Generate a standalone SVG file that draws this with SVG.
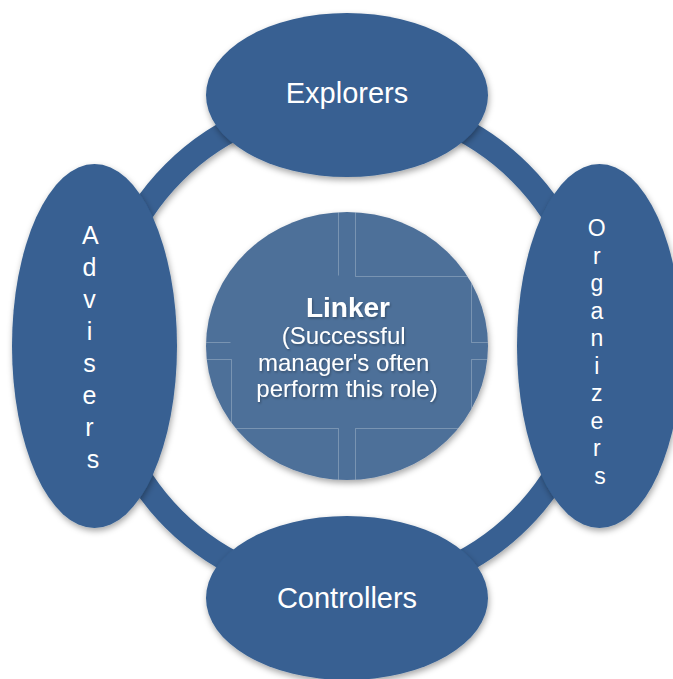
<svg xmlns="http://www.w3.org/2000/svg" width="673" height="679" viewBox="0 0 673 679">
<defs>
<filter id="sh" x="-20%" y="-20%" width="140%" height="140%">
<feDropShadow dx="1" dy="3" stdDeviation="3" flood-color="#000" flood-opacity="0.35"/>
</filter>
<filter id="tsh" x="-10%" y="-10%" width="120%" height="130%">
<feDropShadow dx="1" dy="1.5" stdDeviation="1" flood-color="#000" flood-opacity="0.3"/>
</filter>
<clipPath id="cc"><ellipse cx="347" cy="346" rx="141" ry="134"/></clipPath>
</defs>
<style>
.node{fill:#376092;filter:url(#sh)}
.lbl{font-family:"Liberation Sans",Arial,sans-serif;fill:#fff;text-anchor:middle}
.ring{fill:none;stroke:#376092;stroke-width:24;filter:url(#sh)}
.grid{fill:none;stroke:#fff;stroke-opacity:0.25;stroke-width:1}
</style>
<rect width="673" height="679" fill="#fff"/>
<g id="connectors">
<circle class="ring" cx="347" cy="346" r="245"/>
</g>
<g id="explorers">
<ellipse class="node" cx="347" cy="95" rx="141" ry="82"/>
<text class="lbl" x="347" y="103" font-size="29">Explorers</text>
</g>
<g id="controllers">
<ellipse class="node" cx="347" cy="598" rx="141" ry="82"/>
<text class="lbl" x="347" y="608" font-size="29">Controllers</text>
</g>
<g id="advisers">
<ellipse class="node" cx="94.5" cy="346" rx="82.5" ry="182"/>
<text class="lbl" font-size="25">
<tspan x="93" y="244">A</tspan>
<tspan x="93" y="276">d</tspan>
<tspan x="93" y="308">v</tspan>
<tspan x="93" y="340">i</tspan>
<tspan x="93" y="372">s</tspan>
<tspan x="93" y="404">e</tspan>
<tspan x="93" y="436">r</tspan>
<tspan x="93" y="468">s</tspan>
</text>
</g>
<g id="organizers">
<ellipse class="node" cx="599.5" cy="346" rx="82.5" ry="182"/>
<text class="lbl" font-size="23">
<tspan x="600" y="236">O</tspan>
<tspan x="600" y="263.5">r</tspan>
<tspan x="600" y="291">g</tspan>
<tspan x="600" y="318.5">a</tspan>
<tspan x="600" y="346">n</tspan>
<tspan x="600" y="373.5">i</tspan>
<tspan x="600" y="401">z</tspan>
<tspan x="600" y="428.5">e</tspan>
<tspan x="600" y="456">r</tspan>
<tspan x="600" y="483.5">s</tspan>
</text>
</g>
<g id="linker">
<ellipse cx="347" cy="346" rx="141" ry="134" fill="#4e7099" filter="url(#sh)"/>
<g class="grid" clip-path="url(#cc)">
<path d="M338.5,205 V275.5"/>
<path d="M355.5,205 V276.5 H470"/>
<path d="M471.5,278 V342.5 H495"/>
<path d="M200,342.5 H230.5"/>
<path d="M200,359.5 H231.5 V428.5 H338.5 V490"/>
<path d="M495,359.5 H471.5 V412"/>
<path d="M480,428.5 H355.5 V490"/>
</g>
<g filter="url(#tsh)">
<text class="lbl" x="348" y="317" font-size="28" font-weight="bold">Linker</text>
<text class="lbl" font-size="24">
<tspan x="347" y="344">(Successful</tspan>
<tspan x="347" y="370.5">manager's often</tspan>
<tspan x="347" y="397">perform this role)</tspan>
</text>
</g>
</g>
</svg>
